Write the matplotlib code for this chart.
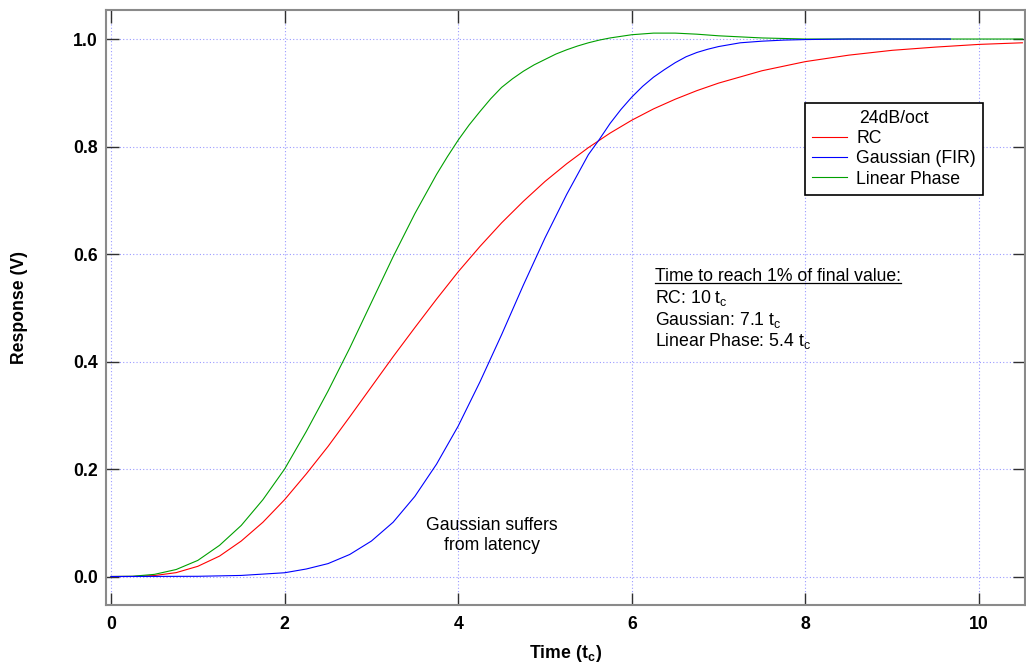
import matplotlib
matplotlib.use('Agg')
import matplotlib.pyplot as plt
from matplotlib.lines import Line2D

plt.rcParams['font.family'] = ['Liberation Sans', 'DejaVu Sans']
plt.rcParams['mathtext.fontset'] = 'custom'
plt.rcParams['mathtext.rm'] = 'Liberation Sans'
plt.rcParams['mathtext.bf'] = 'Liberation Sans:bold'

# values
rc_t = [0, 0.25, 0.5, 0.75, 1.0, 1.25, 1.5, 1.75, 2.0, 2.25, 2.5, 2.75, 3.0, 3.25, 3.5,
        3.75, 4.0, 4.25, 4.5, 4.75, 5.0, 5.25, 5.5, 5.75, 6.0, 6.25, 6.5, 6.75, 7.0, 7.5,
        8.0, 8.5, 9.0, 9.5, 10.0, 10.5]
rc_v = [0, 0.0001, 0.0018, 0.0072, 0.019, 0.038, 0.066, 0.101, 0.143, 0.191, 0.242, 0.297,
        0.353, 0.409, 0.463, 0.516, 0.567, 0.614, 0.658, 0.698, 0.735, 0.768, 0.798, 0.825,
        0.849, 0.870, 0.888, 0.904, 0.918, 0.941, 0.958, 0.970, 0.979, 0.985, 0.990, 0.993]

gauss_t = [0, 1.0, 1.5, 2.0, 2.25, 2.5, 2.75, 3.0, 3.25, 3.5, 3.75, 4.0, 4.25, 4.5, 4.75,
           5.0, 5.25, 5.5, 5.625, 5.75, 5.875, 6.0, 6.125, 6.25, 6.375, 6.5, 6.625, 6.75,
           6.875, 7.0, 7.25, 7.5, 7.75, 8.0, 8.5, 9.0, 9.67]
gauss_v = [0, 0.0004, 0.002, 0.007, 0.014, 0.024, 0.041, 0.066, 0.101, 0.149, 0.209, 0.280,
           0.362, 0.450, 0.542, 0.630, 0.711, 0.785, 0.813, 0.843, 0.869, 0.892, 0.912, 0.929,
           0.943, 0.956, 0.967, 0.975, 0.981, 0.986, 0.993, 0.996, 0.998, 0.999, 1.0, 1.0, 1.0]

lin_t = [0, 0.25, 0.5, 0.75, 1.0, 1.25, 1.5, 1.75, 2.0, 2.25, 2.5, 2.75, 3.0, 3.25, 3.5, 3.75,
         3.875, 4.0, 4.125, 4.25, 4.375, 4.5, 4.625, 4.75, 4.875, 5.0, 5.125, 5.25, 5.375,
         5.5, 5.625, 5.75, 5.875, 6.0, 6.25, 6.5, 6.75, 7.0, 7.25, 7.5, 7.75, 8.0, 9.0, 10.5]
lin_v = [0, 0.0005, 0.004, 0.013, 0.03, 0.058, 0.095, 0.143, 0.200, 0.270, 0.345, 0.425, 0.510,
         0.595, 0.675, 0.748, 0.781, 0.812, 0.840, 0.865, 0.889, 0.910, 0.926, 0.940, 0.952,
         0.962, 0.972, 0.980, 0.987, 0.993, 0.998, 1.002, 1.005, 1.008, 1.011, 1.011, 1.009,
         1.006, 1.004, 1.002, 1.001, 1.0, 1.0, 1.0]

xticks = [0, 2, 4, 6, 8, 10]
yticks = [0.0, 0.2, 0.4, 0.6, 0.8, 1.0]

fs = 12.7

fig = plt.figure(figsize=(10.26, 6.64), dpi=100)
ax = fig.add_axes([106/1026, 1-605/664, 919/1026, 595/664])

l_rc, = ax.plot(rc_t, rc_v, color='red', lw=0.8, zorder=3)
l_lin, = ax.plot(lin_t, lin_v, color='#00a000', lw=0.8, zorder=3)
l_g, = ax.plot(gauss_t, gauss_v, color='blue', lw=0.8, zorder=4)

ax.set_xlim(-0.058, 10.53)
ax.set_ylim(-0.053, 1.054)
ax.set_xticks(xticks)
ax.set_yticks(yticks)
ax.set_xticklabels([str(v) for v in xticks], fontweight='bold', fontsize=fs)
ax.set_yticklabels(['%.1f' % v for v in yticks], fontweight='bold', fontsize=fs)
ax.tick_params(direction='in', length=9, width=1, color='#303030',
               top=True, right=True)
ax.tick_params(axis='x', pad=8)
ax.tick_params(axis='y', pad=6)
ax.grid(True, color='#9a9aff', linestyle=(0, (1, 2)), lw=0.8)
for s in ax.spines.values():
    s.set_color('#8a8a8a')
    s.set_linewidth(1.5)

ax.set_xlabel(r'$\mathbf{Time\ (t_c)}$', fontsize=fs, labelpad=7)
ax.set_ylabel('Response (V)', fontweight='bold', fontsize=fs, labelpad=32)

leg = ax.legend([l_rc, l_g, l_lin], ['RC', 'Gaussian (FIR)', 'Linear Phase'],
                title='24dB/oct', loc='upper left', bbox_to_anchor=(0.7606, 0.8437),
                fontsize=fs, title_fontsize=fs, fancybox=False, framealpha=1,
                edgecolor='black', handlelength=2.0, borderpad=0.4, labelspacing=0.18,
                handletextpad=0.5, borderaxespad=0)
leg.get_frame().set_linewidth(1.2)

note_x = 6.27
head = ax.text(note_x, 0.559, 'Time to reach 1% of final value:', fontsize=fs, va='center')
ax.text(note_x, 0.518, r'RC: 10 t$_\mathregular{c}$', fontsize=fs, va='center')
ax.text(note_x, 0.478, r'Gaussian: 7.1 t$_\mathregular{c}$', fontsize=fs, va='center')
ax.text(note_x, 0.438, r'Linear Phase: 5.4 t$_\mathregular{c}$', fontsize=fs, va='center')

ax.text(4.39, 0.077, 'Gaussian suffers\nfrom latency', fontsize=fs, ha='center',
        va='center', linespacing=1.25)

# underline the heading
fig.canvas.draw()
bb = head.get_window_extent().transformed(fig.transFigure.inverted())
fig.add_artist(Line2D([bb.x0, bb.x1], [bb.y0 + 0.003, bb.y0 + 0.003], color='black', lw=0.9))

fig.savefig('out.png', dpi=100)
